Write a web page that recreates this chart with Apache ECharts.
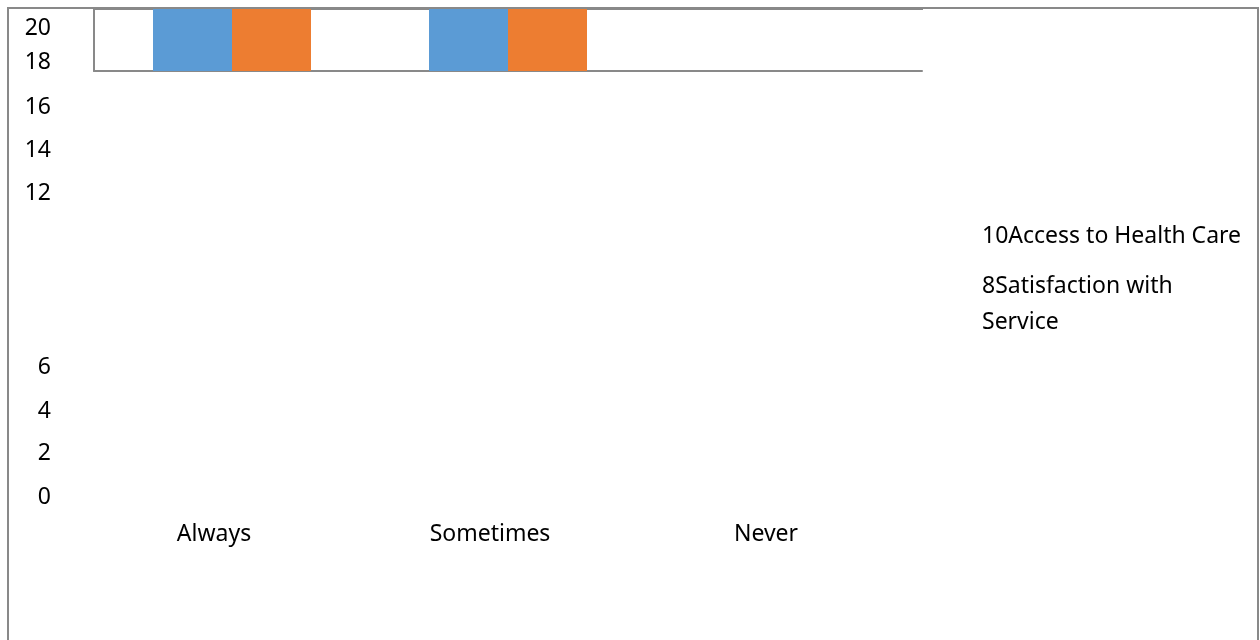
<!DOCTYPE html>
<html>
<head>
<meta charset="utf-8">
<script src="https://cdn.jsdelivr.net/npm/echarts@6/dist/echarts.min.js"></script>
<style>html,body{margin:0;padding:0;background:#fff}#c{width:1260px;height:640px}</style>
</head>
<body>
<div id="c"></div>
<script>
const categories = ['Always', 'Sometimes', 'Never'];
const seriesNames = ['Access to Health Care', 'Satisfaction with Service'];
const accessValues = [20, 20, 0];
const satisfactionValues = [20, 20, 0];
const yTickLabels = ['20', '18', '16', '14', '12', '10', '8', '6', '4', '2', '0'];
const legendPrefixes = ['10', '8'];

const FONT = '"Noto Sans", "Open Sans", sans-serif';
const FS = 23;
// layout of the scattered tick labels (broken original layout)
const tickY = { '20': 28, '18': 62, '16': 107, '14': 150, '12': 193, '6': 367, '4': 411, '2': 453, '0': 497 };

// wrap legend text at a maximum pixel width
const measureCtx = document.createElement('canvas').getContext('2d');
measureCtx.font = FS + 'px ' + FONT;
function wrap(text, maxW) {
  const words = text.split(' ');
  const lines = [];
  let cur = '';
  words.forEach(w => {
    const t = cur ? cur + ' ' + w : w;
    if (measureCtx.measureText(t).width > maxW && cur) { lines.push(cur); cur = w; }
    else cur = t;
  });
  if (cur) lines.push(cur);
  return lines.join('\n');
}

const chart = echarts.init(document.getElementById('c'), null, { renderer: 'canvas' });

const graphics = [{
  type: 'rect', shape: { x: 8, y: 8, width: 1250, height: 700 },
  style: { fill: 'none', stroke: '#898989', lineWidth: 2 }, z: 0, silent: true
}, {
  type: 'line', shape: { x1: 94, y1: 8.5, x2: 923, y2: 8.5 },
  style: { stroke: '#898989', lineWidth: 3 }, z: 1, silent: true
}];
yTickLabels.forEach(t => {
  if (tickY[t] === undefined) return;
  graphics.push({
    type: 'text', x: 51, y: tickY[t],
    style: { text: t, font: FS + 'px ' + FONT, fill: '#000', align: 'right', verticalAlign: 'middle' }
  });
});

chart.setOption({
  animation: false,
  backgroundColor: '#fff',
  grid: { left: 94, right: 338, top: 9, bottom: 569, containLabel: false },
  xAxis: {
    type: 'category', data: categories,
    axisLine: { show: true, lineStyle: { color: '#898989', width: 2 } },
    axisTick: { show: false },
    axisLabel: { margin: 452, color: '#000', fontSize: FS, fontFamily: FONT, padding: [0, 36, 0, 0] }
  },
  yAxis: {
    type: 'value', min: 18, max: 20,
    axisLine: { show: true, lineStyle: { color: '#898989', width: 2 } },
    axisTick: { show: false }, axisLabel: { show: false }, splitLine: { show: false }
  },
  legend: {
    orient: 'vertical', left: 972, top: 213,
    icon: 'rect', itemWidth: 0, itemHeight: 0, itemGap: 14,
    data: seriesNames,
    formatter: name => wrap(legendPrefixes[seriesNames.indexOf(name)] + name, 262),
    textStyle: { color: '#000', fontSize: FS, fontFamily: FONT, lineHeight: 36 }
  },
  series: [
    { name: seriesNames[0], type: 'bar', data: accessValues, barWidth: 79, barGap: '0%', itemStyle: { color: '#5B9BD5' } },
    { name: seriesNames[1], type: 'bar', data: satisfactionValues, barWidth: 79, barGap: '0%', itemStyle: { color: '#ED7D31' } }
  ],
  graphic: graphics
});
</script>
</body>
</html>
